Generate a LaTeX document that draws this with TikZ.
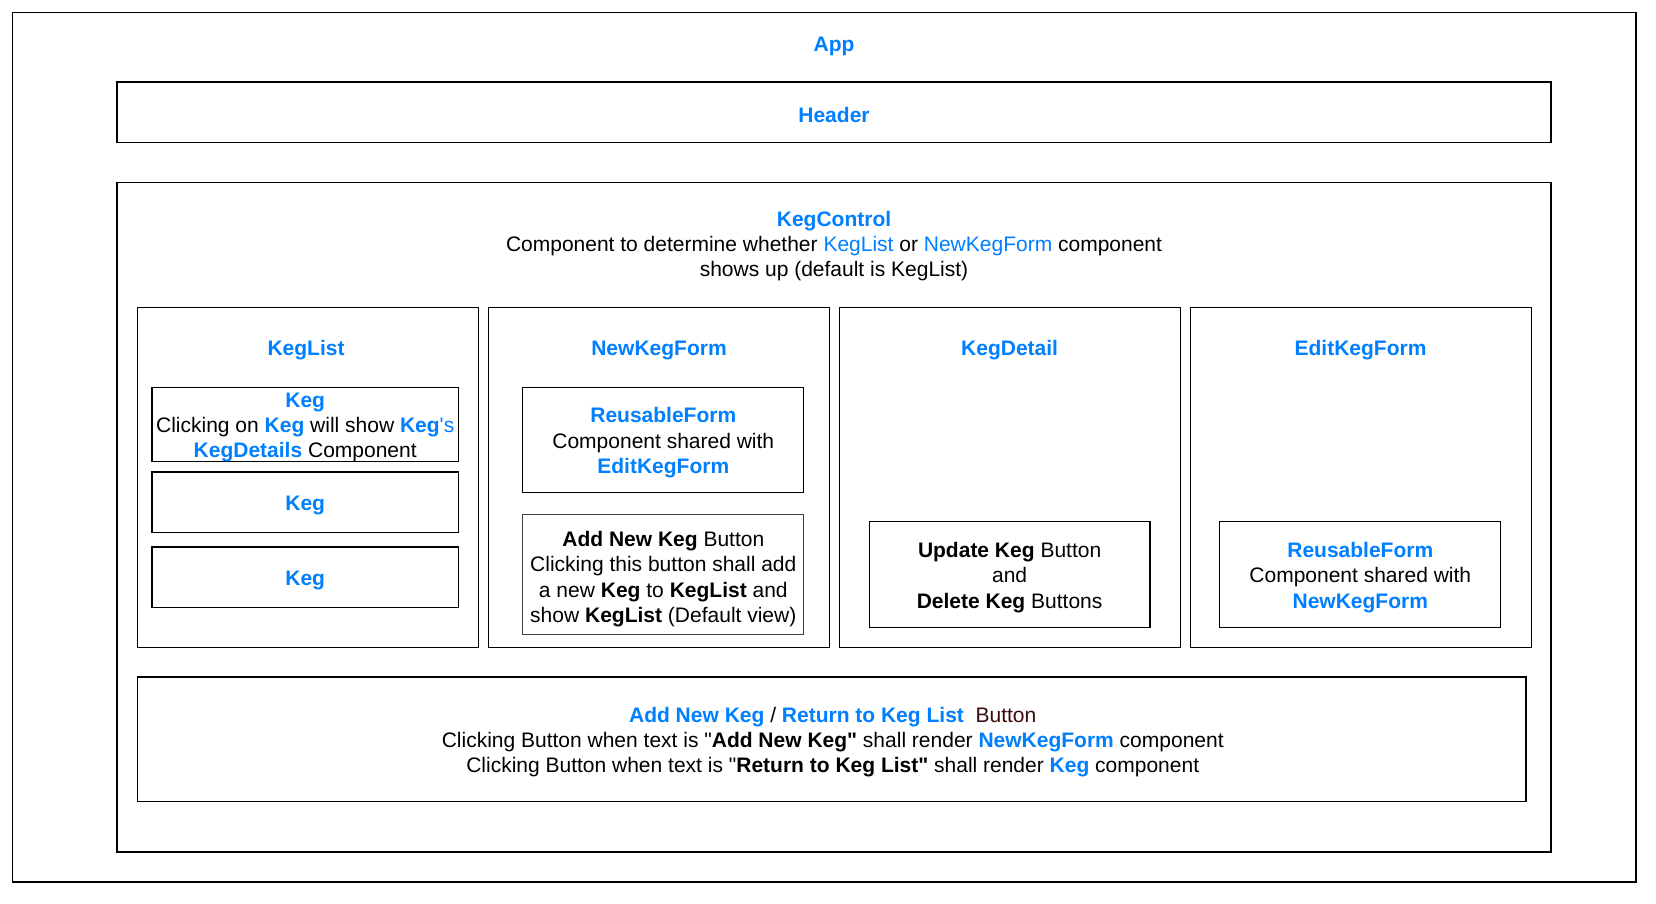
\documentclass[tikz,border=0pt]{standalone}
\usepackage{fontspec}
\setmainfont{Liberation Sans}
\definecolor{kblue}{HTML}{007FFF}
\definecolor{kmaroon}{HTML}{3A0A0A}
\newcommand\bluebf[1]{\textcolor{kblue}{\textbf{#1}}}
\newcommand\bluerm[1]{\textcolor{kblue}{#1}}
\newcommand\fsz{\fontsize{21}{25.3}\selectfont}
\begin{document}
\begin{tikzpicture}[x=1pt,y=-1pt,
  frame/.style={draw=black,line width=1.15pt,inner sep=0pt},
  lbl/.style={inner sep=0pt,align=center,font=\fsz,yshift=-3pt}]
\useasboundingbox (0,0) rectangle (1656,904);
\fill[white] (0,0) rectangle (1656,904);
% outer containers
\node[frame,minimum width=1623.3,minimum height=869.3] (app) at (824.4,447.4) {};
\node[lbl] (applbl) at (834,43.3) {\bluebf{App}};
\node[frame,minimum width=1434,minimum height=60.6] (header) at (834,112.3) {};
\node[lbl] (headerlbl) at (header.center) {\bluebf{Header}};
\node[frame,minimum width=1434,minimum height=669.3] (kegcontrol) at (834,517.4) {};
\node[lbl] (kclbl) at (834,243) {\bluebf{KegControl}\\
  Component to determine whether \bluerm{KegList} or \bluerm{NewKegForm} component\\
  shows up (default is KegList)};
% columns
\node[frame,minimum width=341,minimum height=340.1] (keglist) at (308,477.4) {};
\node[frame,minimum width=341,minimum height=340.1] (newkegform) at (659,477.4) {};
\node[frame,minimum width=341,minimum height=340.1] (kegdetail) at (1010,477.4) {};
\node[frame,minimum width=341,minimum height=340.1] (editkegform) at (1361,477.4) {};
\node[lbl] (keglistlbl) at (306,347.5) {\bluebf{KegList}};
\node[lbl] (newkegformlbl) at (659,347.5) {\bluebf{NewKegForm}};
\node[lbl] (kegdetaillbl) at (1009.6,347.5) {\bluebf{KegDetail}};
\node[lbl] (editkegformlbl) at (1360.5,347.5) {\bluebf{EditKegForm}};
% KegList items
\node[frame,minimum width=306.4,minimum height=73.9] (keg1) at (305.2,424.5) {};
\node[lbl] (keg1lbl) at (keg1.center)
  {\bluebf{Keg}\\ Clicking on \bluebf{Keg} will show \bluebf{Keg}\bluerm{\textquotesingle s}\\ \bluebf{KegDetails} Component};
\node[frame,minimum width=306.4,minimum height=60.3] (keg2) at (305.2,502.2) {};
\node[lbl] (keg2lbl) at (keg2.center) {\bluebf{Keg}};
\node[frame,minimum width=306.4,minimum height=60.3] (keg3) at (305.2,577.2) {};
\node[lbl] (keg3lbl) at (keg3.center) {\bluebf{Keg}};
% NewKegForm items
\node[frame,minimum width=280.9,minimum height=104.5] (reuse1) at (663.3,439.9) {};
\node[lbl] (reuse1lbl) at (reuse1.center)
  {\bluebf{ReusableForm}\\ Component shared with\\ \bluebf{EditKegForm}};
\node[frame,draw=black!75,minimum width=280.9,minimum height=120.4] (addbtn) at (663.3,574.5) {};
\node[lbl] (addbtnlbl) at ([yshift=-1.5pt]addbtn.center)
  {\textbf{Add New Keg} Button\\ Clicking this button shall add\\ a new \textbf{Keg} to \textbf{KegList} and\\ show \textbf{KegList} (Default view)};
% KegDetail item
\node[frame,minimum width=280.8,minimum height=105.6] (updbtn) at (1009.6,574.5) {};
\node[lbl] (updbtnlbl) at (updbtn.center)
  {\textbf{Update Keg} Button\\ and\\ \textbf{Delete Keg} Buttons};
% EditKegForm item
\node[frame,minimum width=280.9,minimum height=105.6] (reuse2) at (1360.3,574.5) {};
\node[lbl] (reuse2lbl) at (reuse2.center)
  {\bluebf{ReusableForm}\\ Component shared with\\ \bluebf{NewKegForm}};
% bottom button
\node[frame,minimum width=1388.7,minimum height=124.6] (toggle) at (831.7,739.3) {};
\node[lbl] (togglelbl) at ([xshift=1pt]toggle.center)
  {\bluebf{Add New Keg} / \bluebf{Return to Keg List}\ \ \textcolor{kmaroon}{Button}\\
   Clicking Button when text is \textquotedbl\textbf{Add New Keg\textquotedbl} shall render \bluebf{NewKegForm} component\\
   Clicking Button when text is \textquotedbl\textbf{Return to Keg List\textquotedbl} shall render \bluebf{Keg} component};
\end{tikzpicture}
\end{document}
